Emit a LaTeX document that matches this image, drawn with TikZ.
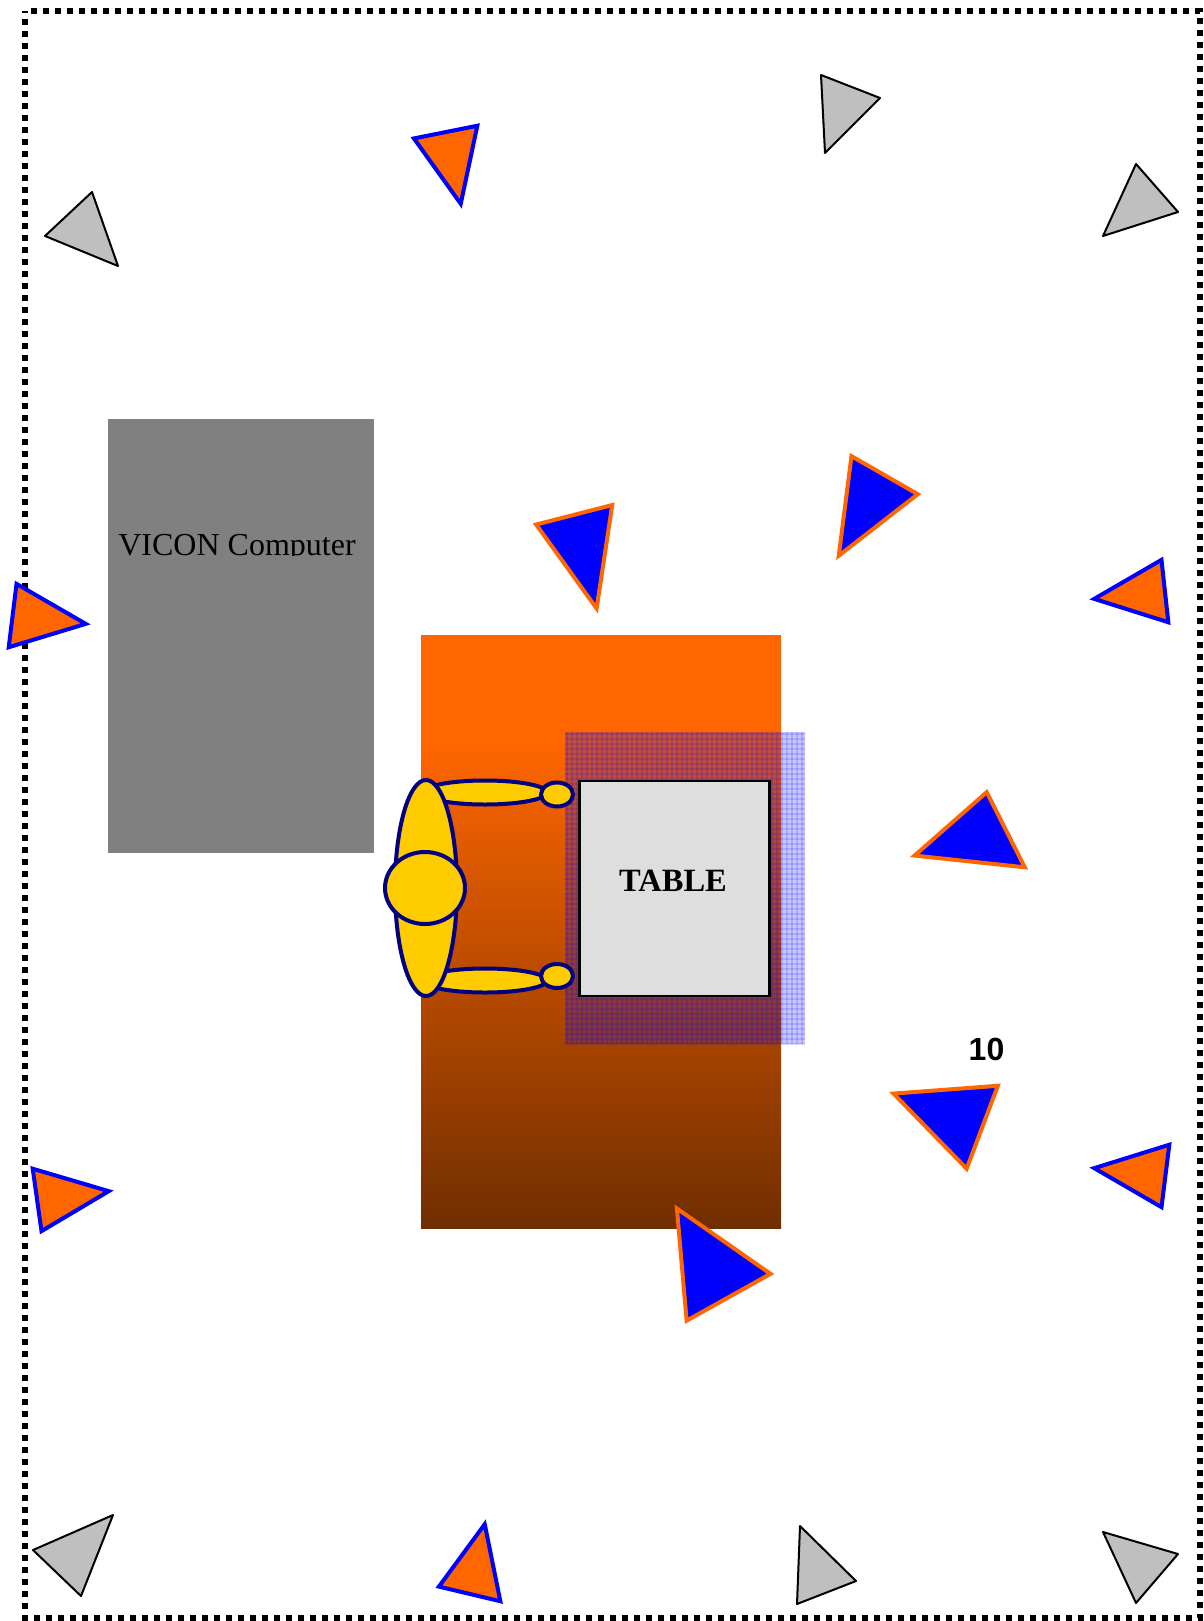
\documentclass[tikz,border=0pt]{standalone}
\usepackage{fontspec}
\setmainfont{Liberation Serif}
\newfontfamily\arialf{Liberation Sans}
\usetikzlibrary{calc}
\definecolor{navyline}{HTML}{000080}
\definecolor{bodyyellow}{HTML}{FFCC00}
\definecolor{markorange}{HTML}{FF6600}
\definecolor{floorbottom}{HTML}{702E00}
\tikzset{
  graymark/.style={draw=black,fill=black!25,line width=2pt,line join=round},
  orangemark/.style={draw=blue,fill=markorange,line width=4pt,line join=miter},
  bluemark/.style={draw=markorange,fill=blue,line width=4pt,line join=miter},
  person/.style={draw=navyline,fill=bodyyellow,line width=4pt},
  borderdots/.style={draw=black,line width=6.5pt,dash pattern=on 6pt off 6pt},
  hatchline/.style={blue,line width=2pt,opacity=0.14}
}
\newcommand{\marktri}[4]{%
  \path #2 coordinate (A) #3 coordinate (B) #4 coordinate (C);
  \coordinate (G) at (barycentric cs:A=1,B=1,C=1);
  \draw[#1] ($(A)!0.025!(G)$) -- ($(B)!0.025!(G)$) -- ($(C)!0.025!(G)$) -- cycle;}
\begin{document}
\begin{tikzpicture}[x=1pt,y=-1pt]
\useasboundingbox (0,0) rectangle (1203,1621);
% border
\coordinate (c1) at (31,11);
\coordinate (c2) at (1200,11);
\coordinate (c3) at (1200,1618);
\coordinate (c4) at (25,1618);
\coordinate (c5) at (25,11);
\draw[borderdots] (c1) -- (c2) -- (c3) -- (c4) -- (c5);
% computer
\fill[black!50] (108,419) rectangle (374,853);
\begin{scope}
\clip (108,500) rectangle (374,555);
\node[inner sep=0pt,anchor=base,font=\fontsize{32}{32}\selectfont] (vicon) at (237,555.5) {VICON Computer};
\end{scope}
% floor
\fill[markorange] (421,635) rectangle (781,741);
\shade[top color=markorange,bottom color=floorbottom] (421,740) rectangle (781,1228);
% hatch
\begin{scope}
\clip (565,732) rectangle (805,1044);
\fill[blue,opacity=0.22] (565,732) rectangle (805,1044);
\foreach \hx in {565,570,...,805} {\draw[hatchline] (\hx+2,732) -- (\hx+2,1044);}
\foreach \hy in {732,737,...,1044} {\draw[hatchline] (565,\hy+2) -- (805,\hy+2);}
\end{scope}
% table
\node[draw=black,fill=black!13,line width=2.5pt,minimum width=190pt,minimum height=215pt,inner sep=0pt] (table) at (674.5,888.5) {};
\node[inner sep=0pt,font=\bfseries\fontsize{32.5}{32.5}\selectfont] (tablelabel) at (673,881) {TABLE};
% person
\draw[person] (485,792.5) ellipse (62 and 12);
\draw[person] (485,980.5) ellipse (62 and 12);
\draw[person] (426,888) ellipse (31 and 108);
\draw[person] (425,888) ellipse (40 and 36);
\draw[person] (557,794.5) ellipse (16 and 12);
\draw[person] (557,976) ellipse (16 and 12);
% gray triangles
\draw[graymark] (45,236) -- (92,192) -- (118,266) -- cycle;
\draw[graymark] (821,75) -- (880,98) -- (825,153) -- cycle;
\draw[graymark] (1136,164) -- (1178,212) -- (1103,236) -- cycle;
\draw[graymark] (33,1550) -- (113,1515) -- (81,1596) -- cycle;
\draw[graymark] (800,1526) -- (856,1581) -- (797,1604) -- cycle;
\draw[graymark] (1103,1532) -- (1178,1554) -- (1136,1603) -- cycle;
% orange triangles
\marktri{orangemark}{(413,138)}{(478,125)}{(461,205)}
\marktri{orangemark}{(1093,599)}{(1162,559)}{(1169,623)}
\marktri{orangemark}{(16,583)}{(87,624)}{(8,648)}
\marktri{orangemark}{(32,1168)}{(110,1191)}{(41,1232)}
\marktri{orangemark}{(1093,1168)}{(1170,1144)}{(1162,1208)}
\marktri{orangemark}{(485,1523)}{(501,1602)}{(438,1587)}
% blue triangles
\marktri{bluemark}{(535,524)}{(613,504)}{(597,610)}
\marktri{bluemark}{(851,455)}{(919,494)}{(838,557)}
\marktri{bluemark}{(987,791)}{(1026,868)}{(913,856)}
\marktri{bluemark}{(892,1093)}{(999,1085)}{(967,1170)}
\marktri{bluemark}{(676,1207)}{(772,1274)}{(686,1322)}
\node[inner sep=0pt,font=\arialf\bfseries\fontsize{32}{32}\selectfont] (ten) at (986.5,1049) {10};
\end{tikzpicture}
\end{document}
